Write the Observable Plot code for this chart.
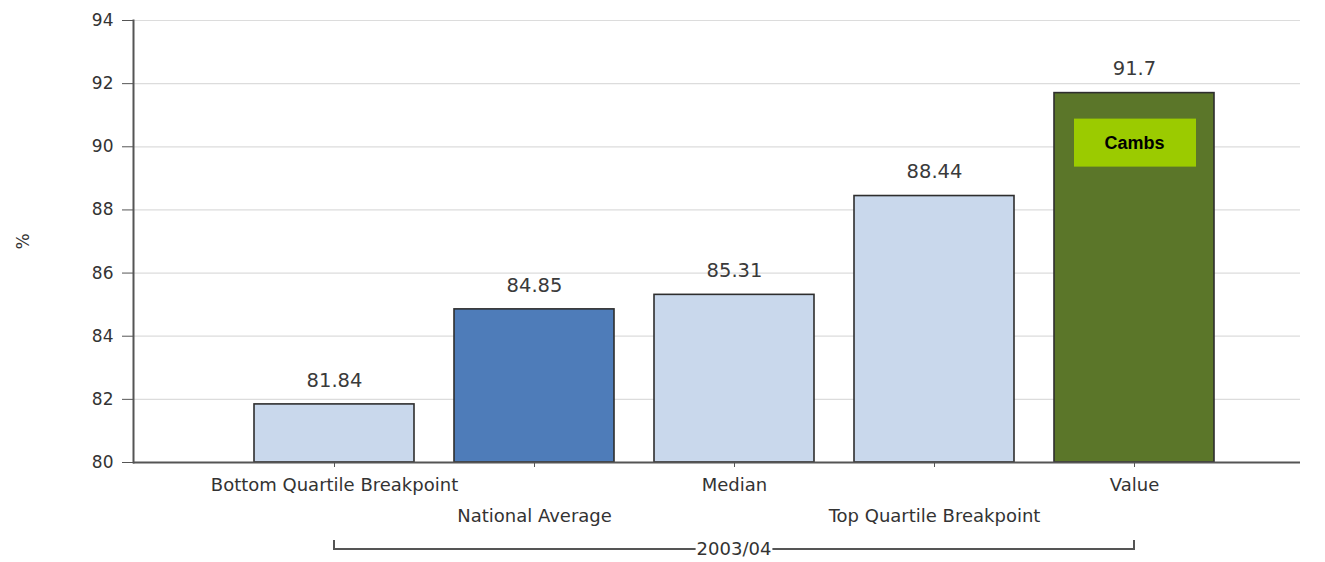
<!DOCTYPE html>
<html>
<head>
<meta charset="utf-8">
<script src="https://cdn.jsdelivr.net/npm/d3@7"></script>
<script src="https://cdn.jsdelivr.net/npm/@observablehq/plot@0.6"></script>
<style>
  html, body { margin: 0; padding: 0; background: #fff; }
  #chart svg { display: block; }
</style>
</head>
<body>
<div id="chart"></div>
<script>
const categories = ["Bottom Quartile Breakpoint", "National Average", "Median", "Top Quartile Breakpoint", "Value"];
const values = [81.84, 84.85, 85.31, 88.44, 91.7];
const barColors = ["#c9d8ec", "#4e7cb9", "#c9d8ec", "#c9d8ec", "#5b7629"];
const yTicks = [80, 82, 84, 86, 88, 90, 92, 94];
const yDomain = [80, 94];
const yLabel = "%";
const periodLabel = "2003/04";
const highlightCategory = "Value";
const highlightLabel = "Cambs";

const data = categories.map((c, i) => ({cat: c, value: values[i], color: barColors[i], base: yDomain[0]}));
const evens = categories.filter((_, i) => i % 2 === 0);
const odds = categories.filter((_, i) => i % 2 === 1);
const hl = data.filter(d => d.cat === highlightCategory);

const font = "DejaVu Sans, sans-serif";

const chart = Plot.plot({
  width: 1325,
  height: 562,
  marginLeft: 133,
  marginRight: 25,
  marginTop: 20,
  marginBottom: 100,
  style: {fontFamily: font, background: "#fff", color: "#333"},
  x: {domain: categories, range: [253, 1214], paddingInner: 0.2, paddingOuter: 0, axis: null},
  y: {domain: yDomain, axis: null},
  marks: [
    Plot.gridY(yTicks, {stroke: "#dcdcdc", strokeOpacity: 1, strokeWidth: 1.2}),
    Plot.barY(data, {x: "cat", y1: "base", y2: "value", fill: "color", stroke: "#2e2e2e", strokeWidth: 1.6}),
    Plot.text(data, {x: "cat", y: "value", text: d => String(d.value), dy: -24, fontSize: 19.5, fill: "#3a3a3a"}),
    Plot.barY(hl, {x: "cat", y1: "value", y2: "value", insetTop: 0, insetBottom: -48, insetLeft: 20, insetRight: 18, dy: 26, fill: "#9bcb00"}),
    Plot.text(hl, {x: "cat", y: "value", text: () => highlightLabel, dy: 50, fontSize: 18, fontWeight: "bold", fill: "#000", fontFamily: "Liberation Sans, Arial, sans-serif"}),
    Plot.ruleY([yDomain[0]], {stroke: "#555", strokeWidth: 2}),
    Plot.frame({anchor: "left", stroke: "#555", strokeWidth: 2}),
    Plot.axisY(yTicks, {tickSize: 11, tickPadding: 9, fontSize: 17, stroke: "#555", fill: "#333", label: yLabel, labelAnchor: "center", labelOffset: 117, labelArrow: "none"}),
    Plot.axisX(categories, {tickSize: 5, tickFormat: null, stroke: "#555", label: null}),
    Plot.axisX(evens, {tickSize: 0, tickPadding: 16, fontSize: 18, fill: "#333", label: null}),
    Plot.axisX(odds, {tickSize: 0, tickPadding: 47, fontSize: 18, fill: "#333", label: null})
  ]
});

document.getElementById("chart").appendChild(chart);

// Category-group bracket beneath the axis, positioned from the plot's own x scale
const sx = chart.scale("x");
const cx = c => sx.apply(c) + sx.bandwidth / 2;
const x0 = cx(categories[0]);
const x1 = cx(categories[categories.length - 1]);
const yBase = chart.scale("y").apply(yDomain[0]);
const by = yBase + 87;
const svg = d3.select(chart);
const g = svg.append("g").attr("fill", "none").attr("stroke", "#555").attr("stroke-width", 2);
g.append("path").attr("d", `M${x0},${by - 9}V${by}H${x1}V${by - 9}`);
const mid = (x0 + x1) / 2;
const bg = svg.append("rect").attr("fill", "#fff");
const t = svg.append("text")
  .attr("x", mid).attr("y", by).attr("dy", "0.35em")
  .attr("text-anchor", "middle")
  .attr("font-family", font).attr("font-size", 18).attr("fill", "#333")
  .text(periodLabel);
const bb = t.node().getBBox();
bg.attr("x", bb.x - 1).attr("y", by - 3).attr("width", bb.width + 2).attr("height", 6);
</script>
</body>
</html>
